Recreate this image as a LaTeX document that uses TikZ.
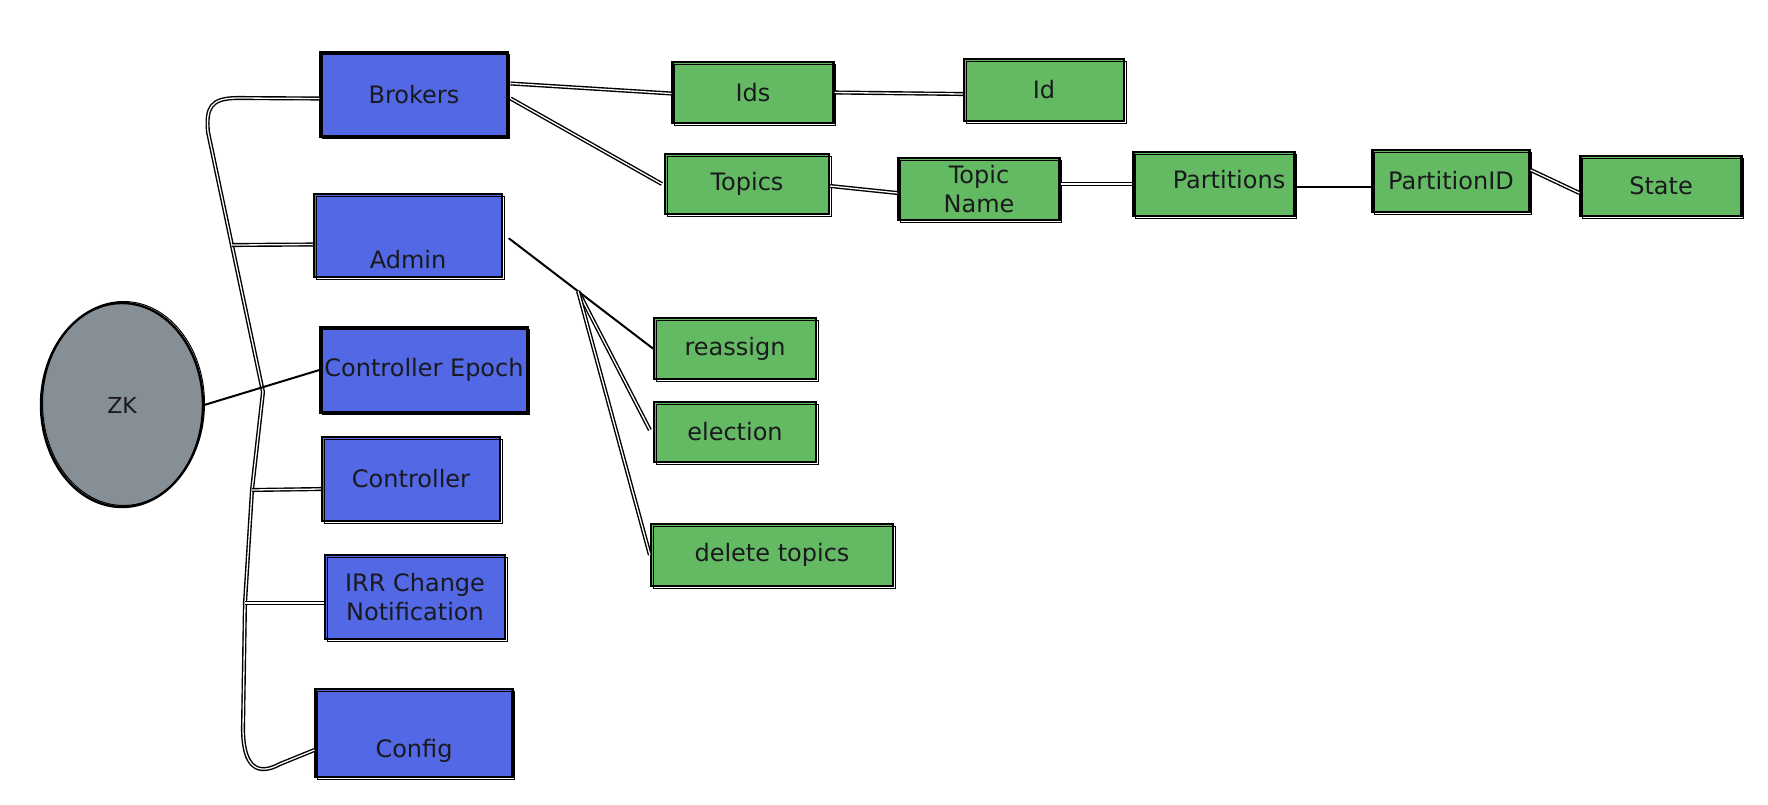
\documentclass[tikz,border=0pt]{standalone}
\usepackage{fontspec}
\setmainfont{DejaVu Sans}
\usetikzlibrary{shapes.geometric,calc}
\definecolor{kblue}{RGB}{82,104,228}
\definecolor{kgreen}{RGB}{100,186,98}
\definecolor{kgray}{RGB}{134,142,150}
\definecolor{ink}{RGB}{25,25,30}
\newcommand{\txtfont}{\fontsize{24}{29}\selectfont}
\tikzset{
  box/.style={rectangle, draw=black, line width=2.2pt, inner sep=0pt, align=center,
    font=\txtfont, text=ink,
    postaction={draw=black, line width=1pt, transform canvas={shift={(2pt,-2pt)}}}},
  bluebox/.style={box, fill=kblue},
  greenbox/.style={box, fill=kgreen},
  lbl/.style={font=\txtfont, text=ink, inner sep=0pt},
  conn/.style={draw=black, line width=2pt, line cap=round},
  dconn/.style={draw=black, line width=1.4pt, double=white, double distance=1.3pt},
}
\begin{document}
\begin{tikzpicture}[x=1pt,y=-1pt]
\useasboundingbox[fill=white] (0,0) rectangle (1768,804);

% root
\node[ellipse, draw=black, line width=2.4pt, fill=kgray, minimum width=162pt, minimum height=204pt,
      font=\fontsize{22}{26}\selectfont, text=ink,
      postaction={draw=black, line width=1pt, transform canvas={shift={(1.5pt,1.5pt)}}}] (zk) at (122,405) {ZK};

% blue column
\node[bluebox, minimum width=187pt, minimum height=84pt] (brokers) at (414,94.5) {Brokers};
\node[bluebox, minimum width=188pt, minimum height=83pt] (admin) at (408,235.5) {};
\node[lbl] at (408,260) {Admin};
\node[bluebox, minimum width=207pt, minimum height=85pt] (cepoch) at (424,370) {Controller Epoch};
\node[bluebox, minimum width=178pt, minimum height=84pt] (controller) at (411,479) {Controller};
\node[bluebox, minimum width=180pt, minimum height=84pt] (irr) at (415,597) {IRR Change\\Notification};
\node[bluebox, minimum width=197pt, minimum height=88pt] (config) at (414,733) {};
\node[lbl] at (414,751) {Config};

% green nodes
\node[greenbox, minimum width=161pt, minimum height=61pt] (ids) at (753,92.5) {Ids};
\node[greenbox, minimum width=160pt, minimum height=62pt] (id) at (1044,90) {Id};
\node[greenbox, minimum width=164pt, minimum height=60pt] (topics) at (747,184) {Topics};
\node[greenbox, minimum width=161pt, minimum height=62pt] (topicname) at (979,189) {Topic\\Name};
\node[greenbox, minimum width=161pt, minimum height=64pt] (partitions) at (1214,184) {};
\node[lbl] at (1229,180) {Partitions};
\node[greenbox, minimum width=157pt, minimum height=62pt] (partitionid) at (1451,181) {PartitionID};
\node[greenbox, minimum width=161pt, minimum height=60pt] (state) at (1661,186) {State};
\node[greenbox, minimum width=162pt, minimum height=61pt] (reassign) at (735,348.5) {reassign};
\node[greenbox, minimum width=162pt, minimum height=60pt] (election) at (735,432) {election};
\node[greenbox, minimum width=242pt, minimum height=62pt] (delete) at (772,555) {delete topics};

% trunk from ZK side
\coordinate (tA) at (232,245);
\coordinate (tC) at (252,490);
\coordinate (tI) at (245,603);
\draw[dconn] ($(brokers.west)+(0,4)$) -- (238,98)
  .. controls (210,98) and (206,108) .. (208,132)
  -- (263,392) -- (tC) -- (tI) -- (243,728)
  .. controls (243,768) and (258,776) .. (280,764)
  -- ($(config.west)+(0,17)$);
\draw[dconn] (tA) -- ($(admin.west)+(0,9)$);
\draw[dconn] (tC) -- ($(controller.west)+(0,10)$);
\draw[dconn] (tI) -- ($(irr.west)+(0,6)$);
\draw[conn] (zk.east) -- (cepoch.west);

% brokers subtree
\draw[dconn] ($(brokers.east)+(2,-11)$) -- ($(ids.west)+(0,1)$);
\draw[dconn] ($(brokers.east)+(2,4)$) -- ($(topics.west)+(-2,0)$);
\draw[dconn] (ids.east) -- ($(id.west)+(0,4)$);
\draw[dconn] ($(topics.east)+(0,2)$) -- ($(topicname.west)+(0,4)$);
\draw[dconn] ($(topicname.east)+(0,-5)$) -- (partitions.west);
\draw[conn] ($(partitions.east)+(0,3)$) -- ($(partitionid.west)+(0,6)$);
\draw[dconn] ($(partitionid.east)+(0,-11)$) -- ($(state.west)+(0,7)$);

% admin subtree
\draw[conn] ($(admin.east)+(6,3)$) -- coordinate[pos=0.48] (br) (reassign.west);
\draw[dconn] (br) -- ($(election.west)+(-3,-2)$);
\draw[dconn] (br) -- (delete.west);
\end{tikzpicture}
\end{document}
